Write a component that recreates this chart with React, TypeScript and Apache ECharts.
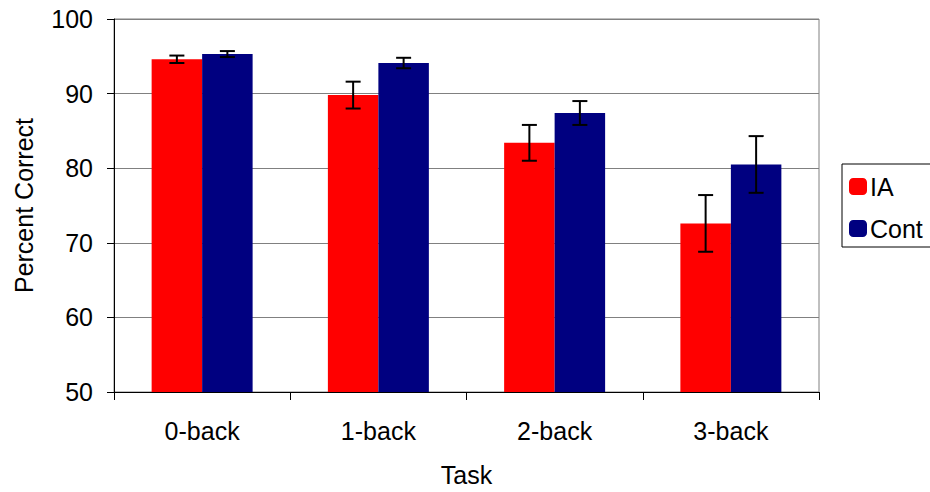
import React, { useEffect, useRef } from "react";
import * as echarts from "echarts";

const categories = ["0-back", "1-back", "2-back", "3-back"];
const iaValues = [94.6, 89.8, 83.4, 72.6];
const iaErrors = [0.5, 1.8, 2.4, 3.8];
const contValues = [95.3, 94.1, 87.4, 80.5];
const contErrors = [0.4, 0.7, 1.6, 3.8];
const seriesNames = ["IA", "Cont"];

const FONT = "'Liberation Sans', Arial, sans-serif";
const FS = 25;
const BAR_FRAC = 0.2865;

function errorSeries(name: string, values: number[], errors: number[], side: number) {
  return {
    type: "custom",
    name: name + "-err",
    z: 10,
    silent: true,
    data: values.map((v, i) => [i, v - errors[i], v + errors[i]]),
    renderItem: (params: any, api: any) => {
      const idx = api.value(0);
      const lo = api.coord([idx, api.value(1)]);
      const hi = api.coord([idx, api.value(2)]);
      const catW = api.size([1, 0])[0];
      const x = lo[0] + side * catW * BAR_FRAC / 2;
      const hw = 7.5;
      const style = { stroke: "#000", lineWidth: 2, fill: "none" };
      return {
        type: "group",
        children: [
          { type: "line", shape: { x1: x, y1: lo[1], x2: x, y2: hi[1] }, style },
          { type: "line", shape: { x1: x - hw, y1: lo[1], x2: x + hw, y2: lo[1] }, style },
          { type: "line", shape: { x1: x - hw, y1: hi[1], x2: x + hw, y2: hi[1] }, style },
        ],
      };
    },
  };
}

export default function App() {
  const ref = useRef<HTMLDivElement>(null);
  useEffect(() => {
    document.body.style.margin = "0";
    if (!ref.current) return;
    const chart = echarts.init(ref.current, null, { renderer: "svg" });
    chart.setOption({
      animation: false,
      textStyle: { fontFamily: FONT },
      grid: {
        left: 114,
        right: 111,
        top: 19,
        bottom: 96,
        show: true,
        borderColor: "#808080",
        borderWidth: 1,
      },
      legend: {
        orient: "vertical",
        left: 842,
        top: 164,
        data: seriesNames,
        icon: "roundRect",
        itemWidth: 18,
        itemHeight: 17,
        itemGap: 17,
        padding: [10, 20, 6, 7],
        borderColor: "#000",
        borderWidth: 1,
        textStyle: { fontSize: FS, color: "#000", fontFamily: FONT, padding: [0, 0, 0, -2] },
      },
      xAxis: {
        type: "category",
        data: categories,
        name: "Task",
        nameLocation: "middle",
        nameGap: 70,
        nameTextStyle: { fontSize: FS, color: "#000", fontFamily: FONT },
        axisLine: { lineStyle: { color: "#000", width: 1 } },
        axisTick: { show: true, length: 8, lineStyle: { color: "#000" } },
        axisLabel: { fontSize: FS, color: "#000", margin: 26, fontFamily: FONT },
        splitLine: { show: false },
      },
      yAxis: {
        type: "value",
        min: 50,
        max: 100,
        interval: 10,
        name: "Percent Correct",
        nameLocation: "middle",
        nameGap: 78,
        nameTextStyle: { fontSize: FS, color: "#000", fontFamily: FONT },
        axisLine: { show: true, lineStyle: { color: "#000", width: 1 } },
        axisTick: { show: true, length: 7, lineStyle: { color: "#000" } },
        axisLabel: { fontSize: FS, color: "#000", margin: 21, fontFamily: FONT },
        splitLine: { show: true, lineStyle: { color: "#808080", width: 1 } },
      },
      series: [
        {
          type: "bar",
          name: "IA",
          data: iaValues,
          barWidth: (BAR_FRAC * 100).toFixed(2) + "%",
          barGap: "0%",
          itemStyle: { color: "#FF0000" },
        },
        {
          type: "bar",
          name: "Cont",
          data: contValues,
          barWidth: (BAR_FRAC * 100).toFixed(2) + "%",
          barGap: "0%",
          itemStyle: { color: "#000080" },
        },
        errorSeries("IA", iaValues, iaErrors, -1),
        errorSeries("Cont", contValues, contErrors, 1),
      ],
    });
    return () => chart.dispose();
  }, []);
  return <div ref={ref} style={{ width: 930, height: 492 }} />;
}
